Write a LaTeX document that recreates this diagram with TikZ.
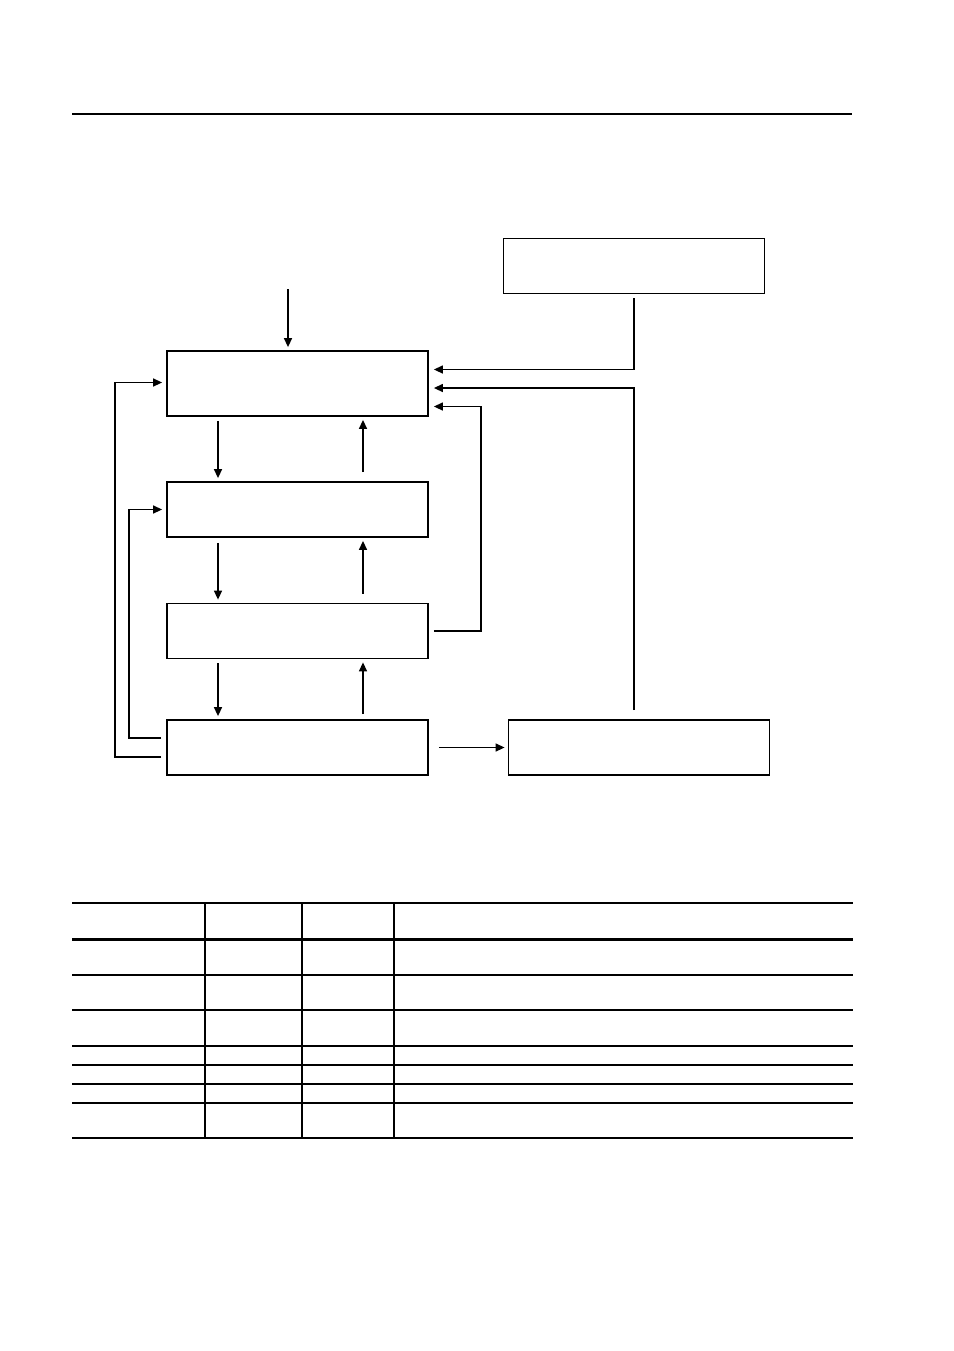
\documentclass[tikz,border=0pt]{standalone}
\usetikzlibrary{arrows.meta}

\begin{document}
\begin{tikzpicture}[x=0.5pt,y=-0.5pt,
    box/.style={draw, line width=0.9pt, minimum width=130.5pt, minimum height=27.5pt, inner sep=0pt},
    link/.style={line width=0.7pt, -{Triangle[length=4.5pt,width=4pt]}}]
    \useasboundingbox (0,0) rectangle (954,1351);

    % Header rule
    \draw[line width=1pt] (72,114) -- (852,114);

    % Blocks
    \node[box] (T) at (634,266) {};
    \node[box, minimum height=32.5pt] (A) at (297.5,383.5) {};
    \node[box] (B) at (297.5,509.5) {};
    \node[box] (C) at (297.5,631) {};
    \node[box] (D) at (297.5,747.5) {};
    \node[box] (E) at (639,747.5) {};

    % Input from above
    \coordinate (in) at (288,289);
    \draw[link] (in) -- ([shift={(-9.5,-3)}]A.north);

    % Down and up between the stacked blocks
    \draw[link] ([shift={(-79.5,4)}]A.south) -- ([shift={(-79.5,-3)}]B.north);
    \draw[link] ([shift={(65.5,-9)}]B.north) -- ([shift={(65.5,3)}]A.south);
    \draw[link] ([shift={(-79.5,5)}]B.south) -- ([shift={(-79.5,-3)}]C.north);
    \draw[link] ([shift={(65.5,-9)}]C.north) -- ([shift={(65.5,3)}]B.south);
    \draw[link] ([shift={(-79.5,4)}]C.south) -- ([shift={(-79.5,-3)}]D.north);
    \draw[link] ([shift={(65.5,-5)}]D.north) -- ([shift={(65.5,3)}]C.south);

    % To the right block
    \draw[link] ([shift={(10,0)}]D.east) -- ([shift={(-3,0)}]E.west);

    % Feedback into the first block (right side)
    \draw[link] ([shift={(0,4)}]T.south) |- ([shift={(5,-14)}]A.east);
    \draw[link] ([shift={(-5,-9)}]E.north) |- ([shift={(5,4.5)}]A.east);
    \draw[link] ([shift={(5,0)}]C.east) -- ++(47,0) |- ([shift={(5,23)}]A.east);

    % Feedback on the left side
    \draw[link] ([shift={(-5,9.5)}]D.west) -- ++(-46,0) |- ([shift={(-4,-1)}]A.west);
    \draw[link] ([shift={(-5,-9.5)}]D.west) -- ++(-32,0) |- ([shift={(-4,0)}]B.west);

    % Table
    \draw[line width=0.7pt] (72,903) -- (853,903);
    \draw[line width=1.5pt] (72,939.5) -- (853,939.5);
    \foreach \y in {975,1010,1046,1065,1084,1103,1138}
        \draw[line width=0.7pt] (72,\y) -- (853,\y);
    \foreach \x in {205,302,394}
        \draw[line width=0.7pt] (\x,903) -- (\x,1138);
\end{tikzpicture}
\end{document}
